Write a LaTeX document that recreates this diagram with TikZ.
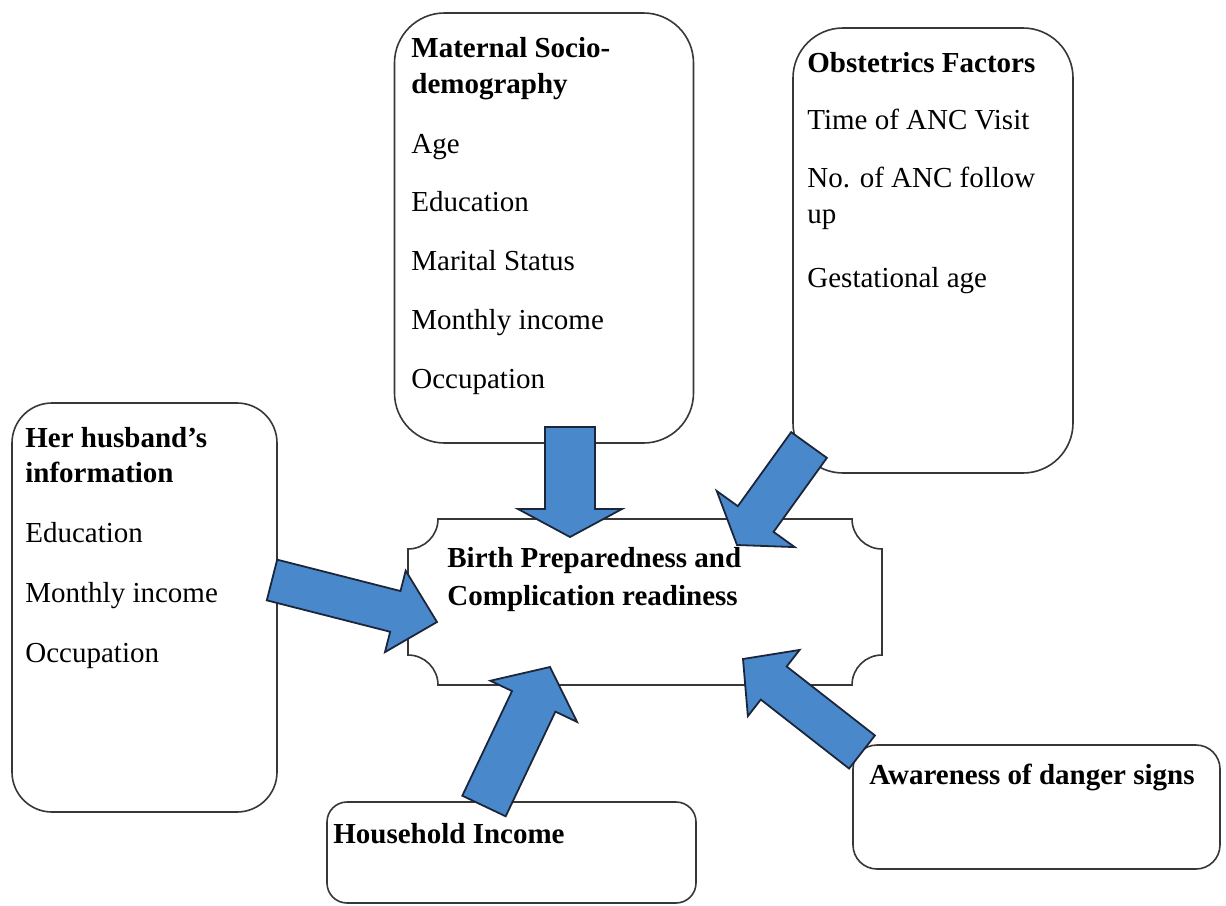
\documentclass[tikz,border=0pt]{standalone}
\usepackage{fontspec}
\setmainfont{Liberation Serif}
\usepackage{xcolor}
\usetikzlibrary{calc}

\definecolor{arrowblue}{RGB}{74,136,204}
\definecolor{arrowline}{RGB}{28,38,58}
\definecolor{boxline}{RGB}{55,55,55}

\tikzset{
  factorbox/.style={draw=boxline, line width=0.8pt, fill=white, inner sep=0pt, outer sep=0pt},
  centrebox/.style={draw=boxline, line width=0.8pt, fill=white},
  head/.style={anchor=base west, inner sep=0pt, font=\fontsize{14.5}{17}\selectfont\bfseries},
  item/.style={anchor=base west, inner sep=0pt, font=\fontsize{14.5}{17}\selectfont},
  bigarrow/.style={fill=arrowblue, draw=arrowline, line width=0.9pt, line join=miter}
}

% tail, tip, shaft half width, head half width, head length
\newcommand{\blockarrow}[5]{%
  \path ($(#2)!#5!(#1)$) coordinate (hb);
  \filldraw[bigarrow] ($(#1)!#3!90:(#2)$) -- ($(hb)!#3!90:(#2)$) -- ($(hb)!#4!90:(#2)$) -- (#2)
    -- ($(hb)!#4!-90:(#2)$) -- ($(hb)!#3!-90:(#2)$) -- ($(#1)!#3!-90:(#2)$) -- cycle;
}

\begin{document}
\begin{tikzpicture}[x=0.5pt, y=-0.5pt]
\useasboundingbox[fill=white] (0,0) rectangle (1226,905);

\node[factorbox, rounded corners=25pt, minimum width=149.5pt, minimum height=215pt] (mat) at (544,228) {};
\node[factorbox, rounded corners=25pt, minimum width=140pt, minimum height=222.5pt] (obs) at (933,250.5) {};
\node[factorbox, rounded corners=20pt, minimum width=132.5pt, minimum height=204.5pt] (hus) at (144.5,607.5) {};
\node[factorbox, rounded corners=10pt, minimum width=184.5pt, minimum height=50.5pt] (hh) at (511.5,852.5) {};
\node[factorbox, rounded corners=12pt, minimum width=183.5pt, minimum height=62pt] (aw) at (1036.5,807) {};

\node[inner sep=0pt, outer sep=0pt, minimum width=237pt, minimum height=83pt] (bpcr) at (645,602) {};
\draw[centrebox] ([xshift=15pt]bpcr.north west) -- ([xshift=-15pt]bpcr.north east)
  arc[start angle=180, end angle=270, radius=15pt] -- ([yshift=15pt]bpcr.south east)
  arc[start angle=90, end angle=180, radius=15pt] -- ([xshift=15pt]bpcr.south west)
  arc[start angle=0, end angle=90, radius=15pt] -- ([yshift=-15pt]bpcr.north west)
  arc[start angle=270, end angle=360, radius=15pt] -- cycle;

\coordinate (matout) at (570,427);
\coordinate (matin) at (570,537);
\coordinate (husout) at (272,580);
\coordinate (husin) at (437,622);
\coordinate (obsout) at (809,445);
\coordinate (obsin) at (737,545);
\coordinate (hhout) at (484,806);
\coordinate (hhin) at (550,667);
\coordinate (awout) at (862,752);
\coordinate (awin) at (743,659);

\blockarrow{matout}{matin}{12.5pt}{26pt}{14pt}
\blockarrow{husout}{husin}{10.5pt}{21pt}{21.5pt}
\blockarrow{obsout}{obsin}{11pt}{24pt}{16pt}
\blockarrow{hhout}{hhin}{12pt}{24pt}{19pt}
\blockarrow{awout}{awin}{10.5pt}{21pt}{19.5pt}

\node[head] (mat-h1) at (411,57) {Maternal Socio-};
\node[head] (mat-h2) at (411,93) {demography};
\foreach \txt [count=\i] in {Age, Education, Marital Status, Monthly income, Occupation}
  \node[item] (mat-\i) at (411,{153+58.75*(\i-1)}) {\txt};

\node[head] (obs-h) at (807,72) {Obstetrics Factors};
\node[item] (obs-1) at (807,129) {Time of ANC Visit};
\node[item] (obs-2) at (807,187) {No. of ANC follow};
\node[item] (obs-2b) at (807,223) {up};
\node[item] (obs-3) at (807,287) {Gestational age};

\node[head] (hus-h1) at (25,447) {Her husband’s};
\node[head] (hus-h2) at (25,482) {information};
\foreach \txt [count=\i] in {Education, Monthly income, Occupation}
  \node[item] (hus-\i) at (25,{542+60*(\i-1)}) {\txt};

\node[head] (bpcr-1) at (447,567) {Birth Preparedness and};
\node[head] (bpcr-2) at (447,605) {Complication readiness};

\node[head] (hh-h) at (333,843) {Household Income};
\node[head] (aw-h) at (869,784) {Awareness of danger signs};
\end{tikzpicture}
\end{document}
